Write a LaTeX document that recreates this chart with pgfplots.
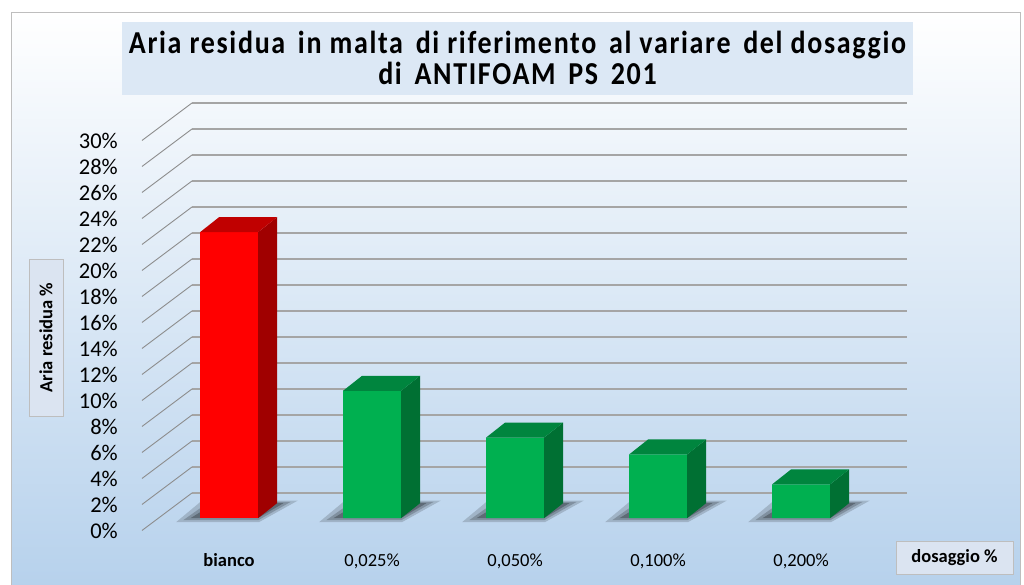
\documentclass[border=0pt]{standalone}
\usepackage{fontspec}
\setmainfont{Carlito}
\newfontfamily\titlefont[LetterSpace=6]{Carlito}
\usepackage{graphicx}
\usepackage{pgfplots}
\pgfplotsset{compat=1.18}
\definecolor{bgblue}{RGB}{182,209,236}
\definecolor{bgmid}{RGB}{222,233,245}
\definecolor{titlebox}{RGB}{220,232,245}
\definecolor{labelbox}{RGB}{219,228,241}
\definecolor{boxgray}{RGB}{190,190,190}
\definecolor{gridgray}{RGB}{165,165,165}
\definecolor{diaggray}{RGB}{140,140,140}
\definecolor{barred}{RGB}{255,0,0}
\definecolor{redtop}{RGB}{192,0,0}
\definecolor{redside}{RGB}{160,0,0}
\definecolor{bargreen}{RGB}{0,176,80}
\definecolor{greentop}{RGB}{0,133,62}
\definecolor{greenside}{RGB}{0,112,51}
\begin{document}
\begin{tikzpicture}[x=1pt,y=1pt]
\useasboundingbox (0,0) rectangle (1024,585);
\fill[white] (0,0) rectangle (1024,585);
\shade[top color=white, middle color=bgmid, bottom color=bgblue] (11,-5) rectangle (1020,573);
\draw[boxgray] (11,-5) rectangle (1020,573);
% title
\fill[titlebox] (122,490) rectangle (913,563);
\node[anchor=base, inner sep=0pt] at (517.5,531) {\titlefont\bfseries\fontsize{28}{30}\selectfont\scalebox{1}[1.14]{Aria residua\, in malta\, di riferimento\, al variare\, del dosaggio}};
\node[anchor=base, inner sep=0pt] at (517.5,500) {\titlefont\bfseries\fontsize{28}{30}\selectfont\scalebox{1}[1.14]{di\, ANTIFOAM\, PS\, 201}};
% axis title boxes
\node[draw=boxgray, fill=labelbox, minimum width=34, minimum height=157, inner sep=0pt] at (46,247.5) {};
\node[rotate=90, inner sep=0pt] at (46,247.5) {\fontsize{18.5}{20}\selectfont\bfseries Aria residua \%};
\node[draw=boxgray, fill=labelbox, minimum width=117, minimum height=33, inner sep=0pt] at (954.5,27.5) {\fontsize{18.5}{20}\selectfont\bfseries dosaggio \%};
% back wall with grid
\begin{axis}[at={(192pt,92pt)}, anchor=south west, scale only axis,
  width=715pt, height=390pt, xmin=-0.494, xmax=4.506, ymin=0, ymax=30,
  axis line style={draw=none}, tick style={draw=none}, major tick length=0pt,
  xtick=\empty, ytick={0,2,...,30}, ymajorgrids,
  major grid style={draw=gridgray, line width=1.4pt},
  /pgf/number format/assume math mode=true,
  yticklabel={\pgfmathprintnumber{\tick}\%},
  yticklabel style={font=\fontsize{22.5}{24}\selectfont, inner sep=0pt, anchor=east, xshift=-74pt, yshift=-37.5pt},
  clip=false]
\pgfplotsinvokeforeach{0,2,...,30}{\draw[diaggray, line width=0.9pt] (axis cs:-0.494,#1) -- ++(-50pt,-37.5pt);}
\end{axis}
% bars
\begin{axis}[at={(158.4pt,66.8pt)}, anchor=south west, scale only axis,
  width=715pt, height=390pt, xmin=-0.494, xmax=4.506, ymin=0, ymax=30,
  axis line style={draw=none}, tick style={draw=none}, major tick length=0pt,
  ytick=\empty, xtick={0,1,2,3,4},
  xticklabels={\textbf{bianco},{0,025\%},{0,050\%},{0,100\%},{0,200\%}},
  xticklabel style={font=\fontsize{18.5}{20}\selectfont, anchor=base, inner sep=0pt, yshift=-48.5pt},
  clip=false]
\pgfplotsinvokeforeach{0,1,2,3,4}{
  \fill[black, opacity=0.16] (axis cs:#1-0.37,-0.3) -- (axis cs:#1+0.21,-0.3) -- (axis cs:#1+0.48,1.35) -- (axis cs:#1-0.19,1.35) -- cycle;
  \fill[black, opacity=0.2] (axis cs:#1-0.32,-0.15) -- (axis cs:#1+0.205,-0.15) -- (axis cs:#1+0.43,1.25) -- (axis cs:#1-0.14,1.25) -- cycle;
  \fill[black, opacity=0.26] (axis cs:#1-0.27,0) -- (axis cs:#1+0.2,0) -- (axis cs:#1+0.38,1.15) -- (axis cs:#1-0.1,1.15) -- cycle;
}
% front faces
\addplot[ybar, bar width=58pt, bar shift=0pt, fill=barred, draw=none] coordinates {(0,22)};
\addplot[ybar, bar width=58pt, bar shift=0pt, fill=bargreen, draw=none] coordinates {(1,9.8) (2,6.2) (3,4.9) (4,2.6)};
% side faces
\addplot[fill=redside, draw=none] coordinates {(0.2028,0) (0.3357,1.154) (0.3357,23.154) (0.2028,22)} -- cycle;
\addplot[fill=greenside, draw=none] coordinates {(1.2028,0) (1.3357,1.154) (1.3357,10.954) (1.2028,9.8)} -- cycle;
\addplot[fill=greenside, draw=none] coordinates {(2.2028,0) (2.3357,1.154) (2.3357,7.354) (2.2028,6.2)} -- cycle;
\addplot[fill=greenside, draw=none] coordinates {(3.2028,0) (3.3357,1.154) (3.3357,6.054) (3.2028,4.9)} -- cycle;
\addplot[fill=greenside, draw=none] coordinates {(4.2028,0) (4.3357,1.154) (4.3357,3.754) (4.2028,2.6)} -- cycle;
% top faces
\addplot[fill=redtop, draw=none] coordinates {(-0.2028,22) (0.2028,22) (0.3357,23.154) (-0.0699,23.154)} -- cycle;
\addplot[fill=greentop, draw=none] coordinates {(0.7972,9.8) (1.2028,9.8) (1.3357,10.954) (0.9301,10.954)} -- cycle;
\addplot[fill=greentop, draw=none] coordinates {(1.7972,6.2) (2.2028,6.2) (2.3357,7.354) (1.9301,7.354)} -- cycle;
\addplot[fill=greentop, draw=none] coordinates {(2.7972,4.9) (3.2028,4.9) (3.3357,6.054) (2.9301,6.054)} -- cycle;
\addplot[fill=greentop, draw=none] coordinates {(3.7972,2.6) (4.2028,2.6) (4.3357,3.754) (3.9301,3.754)} -- cycle;
\end{axis}
\end{tikzpicture}
\end{document}
